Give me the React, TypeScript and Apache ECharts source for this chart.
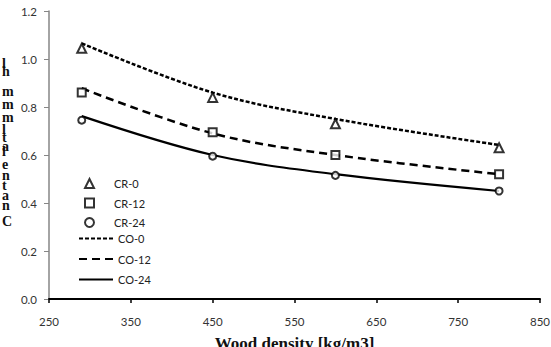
import React, { useEffect, useRef } from "react";
import * as echarts from "echarts";

const densities = [290, 450, 600, 800];
const cr0 = [1.045, 0.84, 0.73, 0.63];
const cr12 = [0.86, 0.695, 0.6, 0.52];
const cr24 = [0.745, 0.595, 0.515, 0.45];
const co0 = [1.065, 0.86, 0.75, 0.642];
const co12 = [0.878, 0.69, 0.6, 0.52];
const co24 = [0.762, 0.6, 0.52, 0.45];
const xTitle = "Wood density [kg/m3]";
// vertical title glyphs, top to bottom
const yTitleGlyphs = ["l", "h", "m", "m", "m", "l", "t", "a", "l", "e", "n", "t", "a", "n", "C"];

const pairs = (ys: number[]) => densities.map((d, i) => [d, ys[i]]);

export default function App() {
  const ref = useRef<HTMLDivElement>(null);
  useEffect(() => {
    if (!ref.current) return;
    const chart = echarts.init(ref.current, null, { renderer: "svg" });
    const sans = "Lato, 'Open Sans', sans-serif";
    const labelFont = { fontFamily: sans, fontSize: 11.5, color: "#333" };
    const ys = [65, 73, 93, 106, 119, 131, 139, 148, 153, 166, 177, 187, 197, 207, 223];
    const glyphs = yTitleGlyphs.map((c, i) => ({
      type: "text",
      left: 2,
      top: ys[i] - 9,
      style: { text: c, font: "bold 14px 'Liberation Serif', serif", fill: "#111" },
    }));
    const scatter = (name: string, data: number[], symbol: string, size: number) => ({
      name,
      type: "scatter",
      data: pairs(data),
      symbol,
      symbolSize: size,
      itemStyle: { color: "#fff", borderColor: "#000", borderWidth: 2 },
      z: 5,
    });
    const line = (name: string, data: number[], type: any, width: number) => ({
      name,
      type: "line",
      data: pairs(data),
      smooth: 0.35,
      showSymbol: false,
      symbol: "none",
      lineStyle: { color: "#000", width, type },
      itemStyle: { color: "#000" },
    });
    const legendText = { fontFamily: sans, fontSize: 11, color: "#222" };
    chart.setOption({
      animation: false,
      backgroundColor: "#fff",
      grid: { left: 49, right: 11, top: 11, bottom: 48, outerBoundsMode: "none" },
      xAxis: {
        type: "value",
        min: 250,
        max: 850,
        interval: 100,
        axisLine: { lineStyle: { color: "#000", width: 2 } },
        axisTick: { show: true, length: 4, lineStyle: { color: "#000", width: 1.5 } },
        axisLabel: { ...labelFont, margin: 16 },
        splitLine: { show: false },
        name: xTitle,
        nameLocation: "middle",
        nameGap: 36,
        nameTextStyle: { fontFamily: "'Liberation Serif', serif", fontWeight: "bold", fontSize: 17, color: "#111" },
      },
      yAxis: {
        type: "value",
        min: 0,
        max: 1.2,
        interval: 0.2,
        axisLine: { show: true, lineStyle: { color: "#868686", width: 1.5 } },
        axisTick: { show: true, length: 5, lineStyle: { color: "#868686" } },
        axisLabel: { ...labelFont, margin: 12, formatter: (v: number) => v.toFixed(1) },
        splitLine: { show: false },
      },
      legend: [
        {
          orient: "vertical",
          left: 79,
          top: 173,
          itemWidth: 9,
          itemHeight: 9,
          itemGap: 8.5,
          textStyle: { ...legendText, padding: [0, 0, 0, 15] },
          data: ["CR-0", "CR-12", "CR-24"],
        },
        {
          orient: "vertical",
          left: 73,
          top: 228,
          itemWidth: 34,
          itemHeight: 10,
          itemGap: 9.5,
          textStyle: legendText,
          itemStyle: { color: "transparent", borderWidth: 0, opacity: 0 },
          data: ["CO-0", "CO-12", "CO-24"],
        },
      ],
      graphic: glyphs,
      series: [
        line("CO-0", co0, [4, 2], 2.5),
        line("CO-12", co12, [8, 5], 2.5),
        line("CO-24", co24, "solid", 2.2),
        scatter("CR-0", cr0, "triangle", 9),
        scatter("CR-12", cr12, "rect", 8),
        scatter("CR-24", cr24, "circle", 7),
      ],
    });
    return () => chart.dispose();
  }, []);
  return (
    <div
      ref={ref}
      style={{ position: "fixed", left: 0, top: 0, width: 551, height: 347 }}
    />
  );
}
